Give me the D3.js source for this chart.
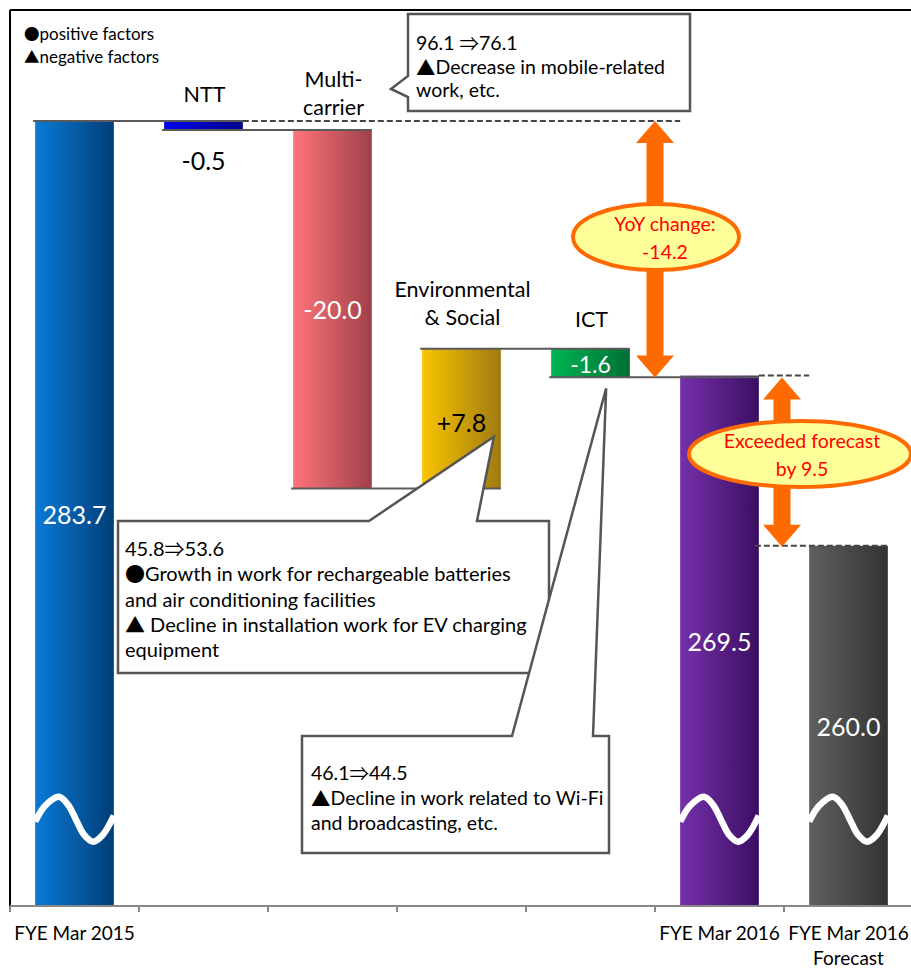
<!DOCTYPE html>
<html><head><meta charset="utf-8">
<script src="https://cdn.jsdelivr.net/npm/d3@7"></script>
<style>body{margin:0;background:#fff}svg{display:block}text{font-family:Lato,"Noto Sans",sans-serif}</style>
</head><body><svg id="c" width="911" height="969"></svg>
<script>
const categories = ["FYE Mar 2015","NTT","Multi-carrier","Environmental & Social","ICT","FYE Mar 2016","FYE Mar 2016 Forecast"];
const values = [283.7, -0.5, -20.0, 7.8, -1.6, 269.5, 260.0];
const isTotal = [true, false, false, false, false, true, true];
const valueLabels = ["283.7","-0.5","-20.0","+7.8","-1.6","269.5","260.0"];
const topLabels = [[],["NTT"],["Multi-","carrier"],["Environmental","& Social"],["ICT"],[],[]];
const axisLabels = [["FYE Mar 2015"],[],[],[],[],["FYE Mar 2016"],["FYE Mar 2016","Forecast"]];
const gradColors = [["#0a7ad6","#003e78"],["#0000f0","#000088"],["#ff747a","#a0404a"],["#f9c500","#a07a12"],["#00b552","#006f36"],["#7530aa","#3b0f62"],["#606060","#333333"]];
const legendLines = ["●positive factors","▲negative factors"];
const noteMulti = ["96.1 ⇒76.1","▲Decrease in mobile-related","work, etc."];
const noteEnv = ["45.8⇒53.6","●Growth in work for rechargeable batteries","and air conditioning facilities","▲ Decline in installation work for EV charging","equipment"];
const noteICT = ["46.1⇒44.5","▲Decline in work related to Wi-Fi","and broadcasting, etc."];
const yoyText = ["YoY change:","-14.2"];
const excText = ["Exceeded forecast","by 9.5"];

const svg = d3.select("#c");
const x = d3.scaleBand().domain(categories).range([10, 913]).padding(0);
const y = d3.scaleLinear().domain([239.9, 289.9]).range([906, 10]);
const bw = x.bandwidth()*0.61;
const bx = c => x(c) + (x.bandwidth()-bw)/2;

function rich(t, str, symSize) {
  str.split(/([●▲⇒])/).filter(s=>s.length).forEach(s => {
    const ts = t.append("tspan").text(s);
    if (/[●▲⇒]/.test(s)) {
      ts.style("font-family", '"Noto Sans CJK JP","DejaVu Sans",sans-serif');
      if (symSize) ts.attr("font-size", symSize);
    }
  });
  return t;
}

// waterfall computation
let run = 0;
const bars = categories.map((c,i) => {
  let s, e;
  if (isTotal[i]) { s = y.domain()[0]; e = values[i]; }
  else { s = run; e = run + values[i]; }
  run = e;
  return {c, i, s, e, v: values[i]};
});

const defs = svg.append("defs");
gradColors.forEach((g,i) => {
  const lg = defs.append("linearGradient").attr("id","g"+i).attr("x1",0).attr("x2",1).attr("y1",0).attr("y2",0);
  lg.append("stop").attr("offset","0%").attr("stop-color",g[0]);
  lg.append("stop").attr("offset","100%").attr("stop-color",g[1]);
});

// frame
svg.append("line").attr("x1",10).attr("x2",911).attr("y1",y.range()[1]).attr("y2",y.range()[1]).attr("stroke","#000").attr("stroke-width",2);
svg.append("line").attr("x1",10).attr("x2",10).attr("y1",y.range()[1]).attr("y2",y.range()[0]).attr("stroke","#000").attr("stroke-width",2);

// legend
legendLines.forEach((d,i) => rich(svg.append("text").attr("x",24).attr("y",33+i*22.5).attr("dominant-baseline","central").attr("font-size",17), d, 15.5));

// bars
svg.selectAll("rect.bar").data(bars).join("rect").attr("class","bar")
  .attr("x",d=>bx(d.c)).attr("width",bw)
  .attr("y",d=>y(Math.max(d.s,d.e))).attr("height",d=>Math.abs(y(d.s)-y(d.e)))
  .attr("fill",d=>`url(#g${d.i})`);

// connectors
const gc = svg.append("g");
bars.slice(0,-2).forEach((d,i) => {
  const n = bars[i+1];
  gc.append("line").attr("x1",bx(d.c)-2).attr("x2",bx(n.c)+bw).attr("y1",y(d.e)).attr("y2",y(d.e))
    .attr("stroke","#5a5a5a").attr("stroke-width",2);
});
// dashed references
const dash = (x1,x2,v) => gc.append("line").attr("x1",x1).attr("x2",x2).attr("y1",y(v)).attr("y2",y(v))
  .attr("stroke","#454545").attr("stroke-width",2).attr("stroke-dasharray","6,3");
dash(bx(categories[1])+bw, bx(categories[5]), values[0]);
dash(bx(categories[5])+bw, bx(categories[6]), values[5]);
dash(bx(categories[5])+bw-4, bx(categories[6])+bw, values[6]);

// waves on totals
const waveShape = [[0,25],[10,9],[24,0],[33,8],[41,23],[49,38],[58,45],[68,38],[79,19]];
const wl = d3.line().curve(d3.curveCatmullRom.alpha(0.5));
bars.filter(d=>isTotal[d.i]).forEach(d => {
  const x0 = bx(d.c), y0 = y(246);
  svg.append("path").attr("d", wl(waveShape.map(p=>[x0+p[0]*bw/79, y0+p[1]])))
    .attr("fill","none").attr("stroke","#fff").attr("stroke-width",6.5).attr("stroke-linecap","butt");
});

// value labels
bars.forEach(d => {
  const top = y(Math.max(d.s,d.e)), bot = y(Math.min(d.s,d.e));
  let cy = (top+bot)/2, col = "#fff", fs = 25;
  if (d.i===1) { cy = bot + 30; col = "#000"; }
  if (d.i===3) { col = "#000"; cy = top+73; }
  if (d.i===4) { fs = 23; cy = cy+1; }
  svg.append("text").attr("x",x(d.c)+x.bandwidth()/2).attr("y",cy).attr("text-anchor","middle")
    .attr("dominant-baseline","central").attr("font-size",fs).attr("fill",col).text(valueLabels[d.i]);
});

// top category labels
const topShift = [0,0,4,-5,-3,0,0];
bars.forEach(d => {
  const L = topLabels[d.i]; if (!L.length) return;
  const top = y(Math.max(d.s,d.e));
  L.forEach((t,k) => {
    svg.append("text").attr("x",x(d.c)+x.bandwidth()/2+1).attr("y",top-27+topShift[d.i]-(L.length-1-k)*28)
      .attr("text-anchor","middle").attr("dominant-baseline","central").attr("font-size",21.5).text(t);
  });
});

// axis
const ax = svg.append("g");
ax.append("line").attr("x1",10).attr("x2",911).attr("y1",906).attr("y2",906).attr("stroke","#888").attr("stroke-width",2);
categories.forEach(c => ax.append("line").attr("x1",x(c)).attr("x2",x(c)).attr("y1",906).attr("y2",912).attr("stroke","#888").attr("stroke-width",2));
categories.forEach((c,i) => axisLabels[i].forEach((t,k) => {
  ax.append("text").attr("x",x(c)+x.bandwidth()/2).attr("y",932+k*25).attr("text-anchor","middle")
    .attr("dominant-baseline","central").attr("font-size",19).text(t);
}));

// callouts
function callout(path, lines, tx, ty, dy, fs) {
  svg.append("path").attr("d",path).attr("fill","#fff").attr("stroke","#555").attr("stroke-width",2.5).attr("stroke-linejoin","miter");
  lines.forEach((t,k)=> rich(svg.append("text").attr("x",tx).attr("y",ty+k*dy).attr("dominant-baseline","central").attr("font-size",fs), t));
}
callout("M408,14H690V111H408V97L391,89L408,76Z", noteMulti, 416, 42, 23.5, 19.5);
const envTip = [bx(categories[3])+bw-7, y(values[0]+values[1]+values[2]+values[3])+88];
callout(`M118,521H369L${envTip[0]},${envTip[1]}L477,521H549V673H118Z`, noteEnv, 125, 548, 25.3, 20);
const ictTip = [bx(categories[4])+55, y(269.4)+11];
callout(`M302,736H512L${ictTip[0]},${ictTip[1]}L593,736H609V853H302Z`, noteICT, 311, 772, 25, 19.5);

// orange arrows
function dArrow(cx, y1, y2) {
  const hw = 19, hl = 22, sw = 8.5;
  const p = [[cx,y1],[cx+hw,y1+hl],[cx+sw,y1+hl],[cx+sw,y2-hl],[cx+hw,y2-hl],[cx,y2],[cx-hw,y2-hl],[cx-sw,y2-hl],[cx-sw,y1+hl],[cx-hw,y1+hl]];
  svg.append("path").attr("d","M"+p.join("L")+"Z").attr("fill","#ff6a00");
}
dArrow(x(categories[5]), y(values[0]), y(values[5])+2);
dArrow(x(categories[6])-2, y(values[5])+2, y(values[6])+1);

function bubble(cx, cy, rx, ry, lines, tcx) {
  svg.append("ellipse").attr("cx",cx).attr("cy",cy).attr("rx",rx).attr("ry",ry).attr("fill","#ffff99").attr("stroke","#ff6a00").attr("stroke-width",4);
  lines.forEach((t,k)=> svg.append("text").attr("x",tcx).attr("y",cy-13.5+k*28).attr("text-anchor","middle").attr("dominant-baseline","central").attr("font-size",19.5).attr("fill","#ff0000").text(t));
}
bubble(656, 237, 83, 33, yoyText, 665);
bubble(800, 454, 111, 33, excText, 802);
</script></body></html>
